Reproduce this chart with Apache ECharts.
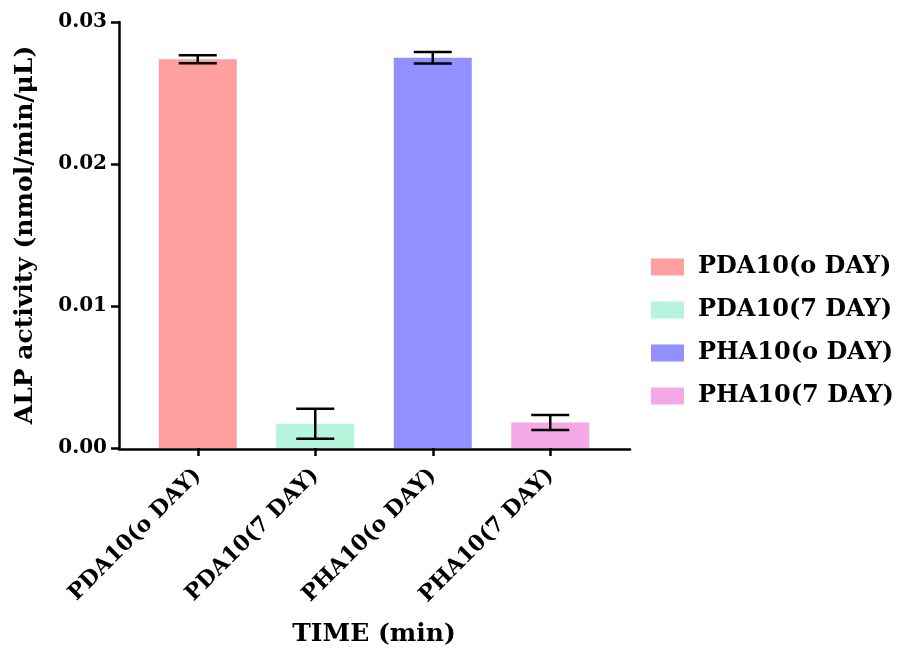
<!DOCTYPE html>
<html>
<head>
<meta charset="utf-8">
<script src="https://cdn.jsdelivr.net/npm/echarts@6/dist/echarts.min.js"></script>
<style>html,body{margin:0;padding:0;background:#fff}#c{width:902px;height:652px}</style>
</head>
<body>
<div id="c"></div>
<script>
const categories = ['PDA10(0 DAY)', 'PDA10(7 DAY)', 'PHA10(0 DAY)', 'PHA10(7 DAY)'];
const legendLabels = ['PDA10(o DAY)', 'PDA10(7 DAY)', 'PHA10(o DAY)', 'PHA10(7 DAY)'];
const axisLabels = ['PDA10(o DAY)', 'PDA10(7 DAY)', 'PHA10(o DAY)', 'PHA10(7 DAY)'];
const means = [0.02738, 0.00171, 0.02748, 0.0018];
const errors = [0.00028, 0.00105, 0.00041, 0.00053];
const colors = ['#FFA0A0', '#B4F5DC', '#9090FF', '#F5A8E6'];
const yTicks = [0, 0.01, 0.02, 0.03];

const FONT = 'DejaVu Serif';
const chart = echarts.init(document.getElementById('c'));

const barSeries = categories.map((c, i) => ({
  name: legendLabels[i],
  type: 'bar',
  xAxisIndex: 0, yAxisIndex: 0,
  barWidth: 78,
  barGap: '-100%',
  itemStyle: { color: colors[i] },
  data: categories.map((_, j) => j === i ? means[i] : '-'),
  z: 2
}));

const errData = means.map((m, i) => [i, m - errors[i], m + errors[i]]);

const option = {
  animation: false,
  textStyle: { fontFamily: FONT },
  grid: [
    { left: 139, right: 293, top: 22, bottom: 203 },
    { left: 119, right: 272, top: 22, bottom: 203 }
  ],
  legend: {
    orient: 'vertical', left: 646, top: 250,
    itemWidth: 33, itemHeight: 17, itemGap: 19, icon: 'rect',
    textStyle: { fontFamily: FONT, fontWeight: 'bold', fontSize: 24, lineHeight: 24, color: '#000', padding: [0, 0, 0, 9] },
    data: legendLabels
  },
  xAxis: [
    {
      type: 'category', gridIndex: 0, data: axisLabels,
      axisLine: { show: false },
      axisTick: { show: true, alignWithLabel: true, length: 8, lineStyle: { color: '#000', width: 2.5 } },
      axisLabel: { rotate: 45, margin: 24, fontFamily: FONT, fontWeight: 'bold', fontSize: 22, color: '#000' },
      name: 'TIME (min)', nameLocation: 'middle', nameGap: 174,
      nameTextStyle: { fontFamily: FONT, fontWeight: 'bold', fontSize: 25, color: '#000' }
    },
    {
      type: 'value', gridIndex: 1, min: 0, max: 1,
      axisLine: { show: true, lineStyle: { color: '#000', width: 2.5 } },
      axisTick: { show: false }, axisLabel: { show: false }, splitLine: { show: false }
    }
  ],
  yAxis: [
    {
      type: 'value', gridIndex: 0, min: 0, max: 0.03, interval: 0.01, offset: 20,
      axisLine: { show: true, lineStyle: { color: '#000', width: 2.5 } },
      axisTick: { show: true, length: 8, lineStyle: { color: '#000', width: 2.5 } },
      axisLabel: { margin: 12, fontFamily: FONT, fontWeight: 'bold', fontSize: 20, color: '#000',
        formatter: v => v.toFixed(2) },
      splitLine: { show: false },
      name: 'ALP activity (nmol/min/μL)', nameLocation: 'middle', nameGap: 81,
      nameTextStyle: { fontFamily: FONT, fontWeight: 'bold', fontSize: 25, color: '#000' }
    },
    {
      type: 'value', gridIndex: 1, min: 0, max: 1, show: false
    }
  ],
  series: barSeries.concat([{
    type: 'custom', xAxisIndex: 0, yAxisIndex: 0, z: 5,
    data: errData,
    renderItem: function (params, api) {
      const x = api.value(0);
      const lo = api.coord([x, api.value(1)]);
      const hi = api.coord([x, api.value(2)]);
      const hw = 19;
      const style = { stroke: '#000', lineWidth: 2.5 };
      return { type: 'group', children: [
        { type: 'line', shape: { x1: lo[0], y1: lo[1], x2: hi[0], y2: hi[1] }, style },
        { type: 'line', shape: { x1: lo[0] - hw, y1: lo[1], x2: lo[0] + hw, y2: lo[1] }, style },
        { type: 'line', shape: { x1: hi[0] - hw, y1: hi[1], x2: hi[0] + hw, y2: hi[1] }, style }
      ]};
    }
  }])
};
chart.setOption(option);
</script>
</body>
</html>
